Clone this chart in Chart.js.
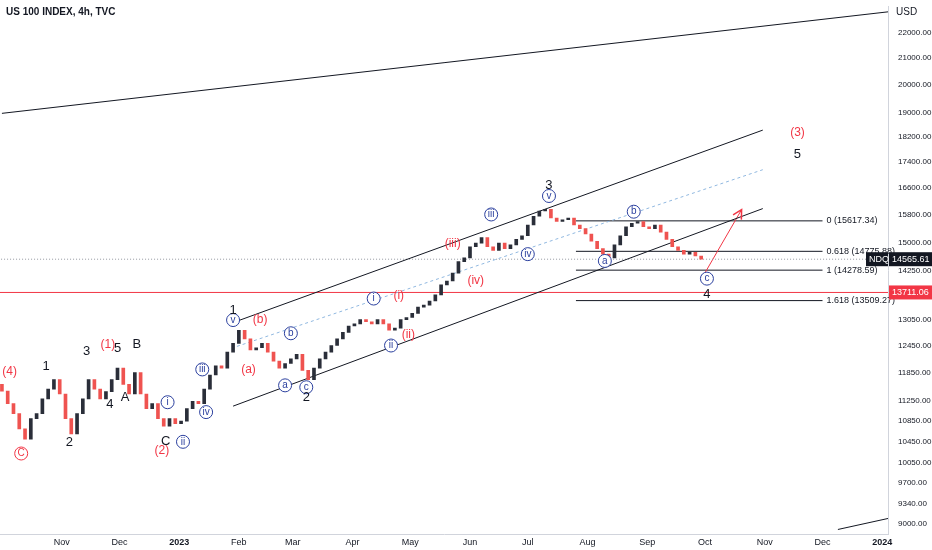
<!DOCTYPE html>
<html>
<head>
<meta charset="utf-8">
<script src="https://cdn.jsdelivr.net/npm/chart.js@4"></script>
<style>
  body { margin: 0; background: #fff; }
  #wrap { width: 932px; height: 550px; position: relative; }
</style>
</head>
<body>
<div id="wrap"><canvas id="chart"></canvas></div>
<script>
// days counted from 1 Oct 2022, one candle every 3 days
var candleDays = [];
for (var i = 0; i <= 363; i += 3) candleDays.push(i);
var closes = [11460, 11200, 11000, 10700, 10500, 10900, 11000, 11300, 11500, 11700,
  11400, 10900, 10600, 11000, 11300, 11700, 11500, 11300, 11450, 11700,
  11950, 11600, 11400, 11850, 11400, 11100, 11200, 10900, 10750, 10900,
  10800, 10850, 11100, 11250, 11200, 11500, 11800, 12000, 11950, 12300,
  12500, 12800, 12600, 12350, 12400, 12500, 12300, 12100, 11950, 12050,
  12150, 12250, 11900, 11700, 11950, 12150, 12300, 12450, 12600, 12750,
  12900, 12950, 13050, 13000, 12950, 13050, 12950, 12800, 12850, 13050,
  13100, 13200, 13350, 13400, 13500, 13650, 13900, 14000, 14200, 14500,
  14600, 14900, 15000, 15150, 14900, 14800, 15000, 14850, 14950, 15100,
  15200, 15500, 15750, 15900, 15950, 15700, 15600, 15650, 15700, 15500,
  15400, 15250, 15050, 14850, 14700, 14600, 14950, 15200, 15450, 15550,
  15600, 15450, 15400, 15500, 15300, 15100, 14900, 14800, 14700, 14750,
  14650, 14565.61];
var firstOpen = 11600;

var yTicks = [9000, 9340, 9700, 10050, 10450, 10850, 11250, 11850, 12450, 13050,
  14250, 15000, 15800, 16600, 17400, 18200, 19000, 20000, 21000, 22000];
var monthDays = [31, 61, 92, 123, 151, 182, 212, 243, 273, 304, 335, 365, 396, 426, 457];
var monthLabels = ["Nov", "Dec", "2023", "Feb", "Mar", "Apr", "May", "Jun", "Jul", "Aug", "Sep", "Oct", "Nov", "Dec", "2024"];

var fibLevels = [15617.34, 14775.88, 14278.59, 13509.27];
var fibNames = ["0 (15617.34)", "0.618 (14775.88)", "1 (14278.59)", "1.618 (13509.27)"];
var lastPrice = 14565.61;
var redLevel = 13711.06;

// wave labels: [day, price, text, colour, circled]
var waveLabels = [
  [4, 11880, "(4)", "r", 0], [10, 10230, "C", "r", 1], [23, 11980, "1", "k", 0],
  [35, 10430, "2", "k", 0], [44, 12320, "3", "k", 0], [55, 12470, "(1)", "r", 0],
  [60, 12380, "5", "k", 0], [56, 11190, "4", "k", 0], [64, 11320, "A", "k", 0],
  [70, 12470, "B", "k", 0], [85, 10450, "C", "k", 0], [83, 10290, "(2)", "r", 0],
  [86, 11230, "i", "b", 1], [94, 10450, "ii", "b", 1], [104, 11920, "iii", "b", 1],
  [106, 11030, "iv", "b", 1], [120, 13040, "v", "b", 1], [120, 13280, "1", "k", 0],
  [134, 13040, "(b)", "r", 0], [128, 11920, "(a)", "r", 0], [150, 12730, "b", "b", 1],
  [147, 11580, "a", "b", 1], [158, 11540, "c", "b", 1], [158, 11330, "2", "k", 0],
  [193, 13560, "i", "b", 1], [206, 13620, "(i)", "r", 0], [211, 12690, "(ii)", "r", 0],
  [202, 12450, "ii", "b", 1], [234, 14970, "(iii)", "r", 0], [246, 14020, "(iv)", "r", 0],
  [254, 15800, "iii", "b", 1], [273, 14700, "iv", "b", 1], [284, 16340, "v", "b", 1],
  [284, 16670, "3", "k", 0], [313, 14520, "a", "b", 1], [328, 15880, "b", "b", 1],
  [366, 14060, "c", "b", 1], [366, 13650, "4", "k", 0], [413, 18330, "(3)", "r", 0],
  [413, 17620, "5", "k", 0]
];

var bodies = [], colors = [];
for (var i = 0; i < closes.length; i++) {
  var o = i === 0 ? firstOpen : closes[i - 1];
  bodies.push({ x: candleDays[i], y: [o, closes[i]] });
  colors.push(closes[i] >= o ? "#2a2e39" : "#ef5350");
}

function seg(a, b) { return [{ x: a[0], y: a[1] }, { x: b[0], y: b[1] }]; }
var lineDs = function (data, color, dash) {
  return { type: "line", data: data, borderColor: color, borderWidth: 1, pointRadius: 0, borderDash: dash || [], fill: false };
};

var datasets = [
  { type: "bar", data: bodies, backgroundColor: colors, borderColor: colors, barThickness: 3, minBarLength: 1 },
  lineDs(seg([0, 18990], [460, 22840]), "#131722"),
  lineDs(seg([120, 12980], [395, 18420]), "#131722"),
  lineDs(seg([120, 11150], [395, 15970]), "#131722"),
  lineDs(seg([122, 12430], [395, 17140]), "#90b8e0", [3, 3]),
  lineDs(seg([434, 8910], [460, 9090]), "#131722"),
  lineDs(seg([-2, redLevel], [462, redLevel]), "#f23645"),
  lineDs(seg([-2, lastPrice], [462, lastPrice]), "#9598a1", [1, 2]),
  lineDs(seg([365, 14210], [384, 15940]), "#f23645")
];
fibLevels.forEach(function (v) { datasets.push(lineDs(seg([298, v], [426, v]), "#131722")); });

var colorMap = { r: "#f23645", k: "#131722", b: "#2a3f9e" };

var overlay = {
  id: "overlay",
  afterDraw: function (chart) {
    var ctx = chart.ctx, xs = chart.scales.x, ys = chart.scales.y, ca = chart.chartArea;
    ctx.save();
    ctx.textAlign = "center"; ctx.textBaseline = "middle";
    waveLabels.forEach(function (l) {
      var px = xs.getPixelForValue(l[0]), py = ys.getPixelForValue(l[1]);
      ctx.fillStyle = colorMap[l[3]];
      ctx.font = (l[3] === "k" ? "13px" : "12px") + " 'Liberation Sans', Arial";
      if (l[4]) {
        ctx.fillStyle = "#fff";
        ctx.beginPath(); ctx.arc(px, py, 6.5, 0, Math.PI * 2); ctx.fill();
        ctx.strokeStyle = colorMap[l[3]]; ctx.lineWidth = 1; ctx.stroke();
        ctx.fillStyle = colorMap[l[3]];
        ctx.font = "10px 'Liberation Sans', Arial";
      }
      ctx.fillText(l[2], px, py);
    });
    // fib texts
    ctx.font = "9px 'Liberation Sans', Arial";
    ctx.textAlign = "left"; ctx.fillStyle = "#131722";
    var fx = xs.getPixelForValue(426) + 4;
    fibNames.forEach(function (t, i) {
      ctx.fillText(t, fx, ys.getPixelForValue(fibLevels[i]));
    });
    // arrow head
    var ax = xs.getPixelForValue(384), ay = ys.getPixelForValue(15940);
    var bx = xs.getPixelForValue(365), by = ys.getPixelForValue(14210);
    var ang = Math.atan2(ay - by, ax - bx);
    ctx.strokeStyle = "#f23645"; ctx.lineWidth = 1.5;
    ctx.beginPath();
    ctx.moveTo(ax - 10 * Math.cos(ang - 0.5), ay - 10 * Math.sin(ang - 0.5));
    ctx.lineTo(ax, ay);
    ctx.lineTo(ax - 10 * Math.cos(ang + 0.5), ay - 10 * Math.sin(ang + 0.5));
    ctx.stroke();
    // price boxes
    function box(v, text, bg, x0, w) {
      var y = ys.getPixelForValue(v);
      ctx.fillStyle = bg; ctx.fillRect(x0, y - 7, w, 14);
      ctx.fillStyle = "#fff"; ctx.textAlign = "left";
      ctx.fillText(text, x0 + 3, y);
    }
    ctx.font = "9px 'Liberation Sans', Arial";
    box(lastPrice, "NDQ", "#131722", ca.right - 22, 22);
    box(lastPrice, "14565.61", "#131722", ca.right + 1, 43);
    box(redLevel, "13711.06", "#f23645", ca.right + 1, 43);
    // header
    ctx.fillStyle = "#131722"; ctx.textAlign = "left";
    ctx.font = "bold 10px 'Liberation Sans', Arial";
    ctx.fillText("US 100 INDEX, 4h, TVC", 6, 12);
    ctx.font = "10px 'Liberation Sans', Arial";
    ctx.fillText("USD", ca.right + 8, 12);
    ctx.restore();
  }
};

new Chart("chart", {
  data: { datasets: datasets },
  options: {
    responsive: true, maintainAspectRatio: false, animation: false,
    layout: { padding: 0 },
    plugins: { legend: { display: false }, tooltip: { enabled: false } },
    scales: {
      x: {
        type: "linear", min: -1, max: 460, offset: false,
        grid: { display: false, drawTicks: false },
        border: { color: "#d1d4dc" },
        afterBuildTicks: function (s) { s.ticks = monthDays.map(function (d) { return { value: d }; }); },
        afterFit: function (s) { s.height = 16; },
        ticks: {
          autoSkip: false, maxRotation: 0, padding: 3, color: "#131722",
          font: function (c) {
            var lab = monthLabels[c.index];
            return { size: 9, family: "'Liberation Sans', Arial", weight: (lab === "2023" || lab === "2024") ? "bold" : "normal" };
          },
          callback: function (v, i) { return monthLabels[i]; }
        }
      },
      y: {
        type: "logarithmic", position: "right", min: 8837, max: 23050,
        grid: { display: false },
        border: { color: "#d1d4dc" },
        afterBuildTicks: function (s) { s.ticks = yTicks.map(function (v) { return { value: v }; }); },
        afterFit: function (s) { s.width = 44; },
        ticks: {
          color: "#131722", padding: 2,
          font: { size: 8, family: "'Liberation Sans', Arial" },
          callback: function (v) { return Number(v).toFixed(2); }
        }
      }
    }
  },
  plugins: [overlay]
});
</script>
</body>
</html>
